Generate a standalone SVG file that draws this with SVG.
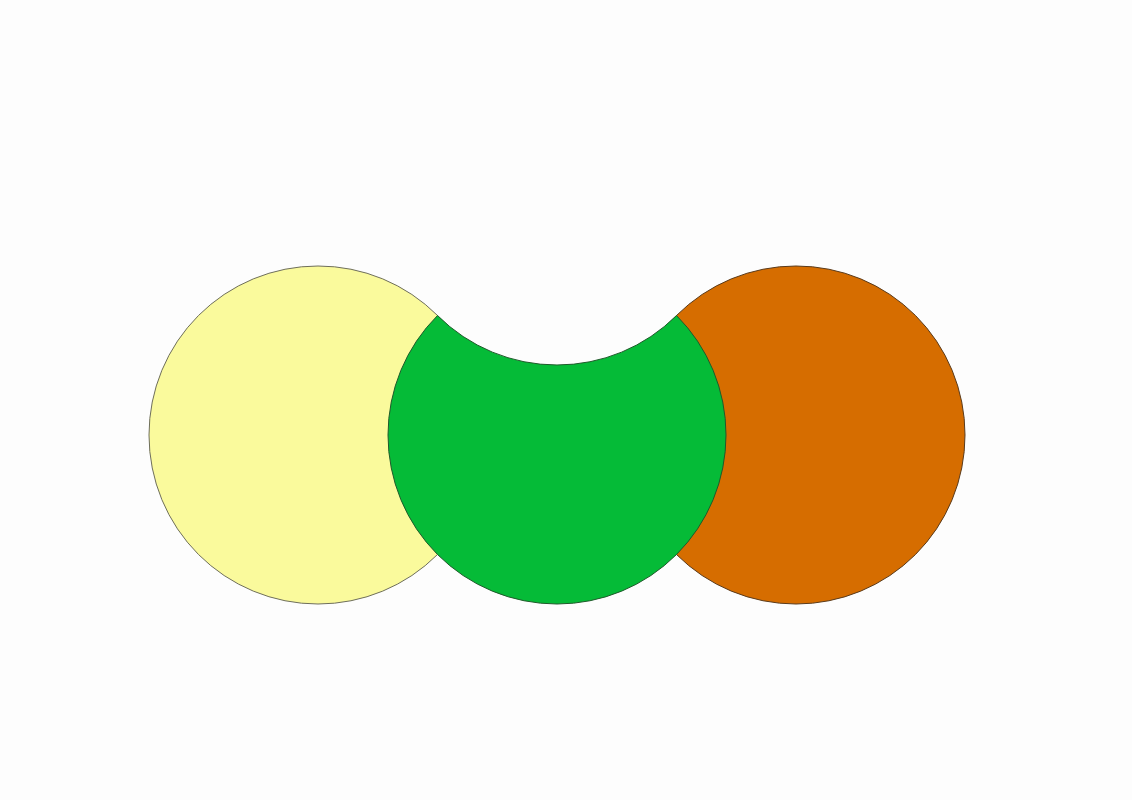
<svg xmlns="http://www.w3.org/2000/svg" width="1132" height="800" viewBox="0 0 1132 800">
  <style>
    .shape { stroke-width: 1; }
  </style>
  <rect x="0" y="0" width="1132" height="800" fill="#fdfdfd"/>
  <g id="yellow">
    <circle class="shape" cx="318" cy="435" r="169" fill="#fafa9c" stroke="#6e6e5a"/>
  </g>
  <g id="orange">
    <circle class="shape" cx="796" cy="435" r="169" fill="#d66d00" stroke="#5a3a1a"/>
  </g>
  <g id="green">
    <path class="shape" d="M437.5,315.5 A169,169 0 0 0 676.5,315.5 A169,169 0 1 1 437.5,315.5 Z" fill="#05bb37" stroke="#1f5a2a"/>
  </g>
  <g id="connectors"/>
</svg>
